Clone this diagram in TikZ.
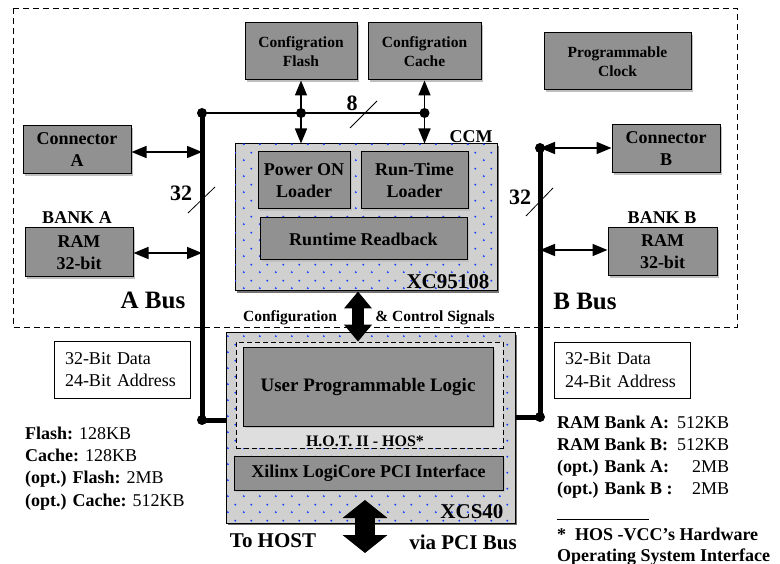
\documentclass[tikz,border=0pt]{standalone}
\usepackage{fontspec}
\setmainfont{Liberation Serif}
\usetikzlibrary{arrows.meta,shadows,patterns}

\pgfdeclarepatternformonly{bluedots}{\pgfpointorigin}{\pgfpoint{16pt}{16pt}}{\pgfpoint{16pt}{16pt}}{%
  \pgfpathcircle{\pgfpoint{4pt}{4pt}}{1.1pt}%
  \pgfpathcircle{\pgfpoint{12pt}{12pt}}{1.1pt}%
  \pgfusepath{fill}}

\definecolor{boxgray}{RGB}{145,145,145}
\definecolor{chipgray}{RGB}{208,208,208}
\definecolor{hotgray}{RGB}{222,222,222}
\definecolor{dotblue}{RGB}{20,60,255}

\newcommand{\fsbig}{\fontsize{18}{22}\selectfont\bfseries}
\newcommand{\fssmall}{\fontsize{15.5}{19}\selectfont\bfseries}
\newcommand{\fshuge}{\fontsize{25}{28}\selectfont\bfseries}
\newcommand{\fsnum}{\fontsize{22}{24}\selectfont\bfseries}
\newcommand{\fslist}{\fontsize{18}{22.3}\selectfont}

\tikzset{
  every node/.style={font=\fsbig},
  box/.style={draw, line width=1pt, fill=boxgray, align=center, inner sep=1pt,
    drop shadow={shadow xshift=2pt, shadow yshift=-2pt, fill=black!25, opacity=1}},
  chip/.style={draw, line width=1pt, fill=chipgray, inner sep=0pt,
    postaction={pattern=bluedots, pattern color=dotblue},
    drop shadow={shadow xshift=2pt, shadow yshift=-2pt, fill=black!55, opacity=1}},
  info/.style={draw, line width=0.8pt, fill=white, align=left, inner xsep=10pt,
    font=\normalfont\fslist},
  bus/.style={line width=5pt},
  link/.style={line width=1.6pt, {Triangle[length=15pt,width=12pt]}-{Triangle[length=15pt,width=12pt]}},
  tick/.style={line width=0.8pt},
}

\begin{document}
\begin{tikzpicture}[x=1pt, y=-1pt]
  \useasboundingbox (0,0) rectangle (780,564);
  \draw[line width=0.8pt, dash pattern=on 6pt off 4pt] (13,8) rectangle (737,327);

  % memories and connectors
  \node (flash) [box, minimum width=112pt, minimum height=57pt, font=\fssmall] at (301, 51.5) {Configration\\Flash};
  \node (cache) [box, minimum width=113pt, minimum height=57pt, font=\fssmall] at (424.5, 51.5) {Configration\\Cache};
  \node (clock) [box, minimum width=147pt, minimum height=57pt, font=\fssmall] at (617.5, 61.5) {Programmable\\Clock};
  \node (conA) [box, minimum width=108pt, minimum height=48pt] at (77, 150) {Connector\\A};
  \node (ramA) [box, minimum width=108pt, minimum height=49pt] at (79, 252.5) {RAM\\32-bit};
  \node (conB) [box, minimum width=108pt, minimum height=48pt] at (666, 149) {Connector\\B};
  \node (ramB) [box, minimum width=109pt, minimum height=48pt] at (662.5, 252) {RAM\\32-bit};
  \node (bankA) at (77, 218) {BANK A};
  \node (bankB) at (662, 218) {BANK B};

  % CCM
  \node (ccm) [chip, minimum width=262pt, minimum height=147pt] at (366, 217.5) {};
  \node (pwr) [box, minimum width=92pt, minimum height=57pt] at (304, 180.5) {Power ON\\Loader};
  \node (rtl) [box, minimum width=107pt, minimum height=57pt] at (414.5, 180.5) {Run-Time\\Loader};
  \node (rdb) [box, minimum width=207pt, minimum height=42pt] at (363.5, 239) {Runtime Readback};
  \node (ccmlbl) at (471, 137) {CCM};
  \node (xclbl) [font=\fontsize{21}{24}\selectfont\bfseries] at (448, 282) {XC95108};

  % XCS40
  \node (xcs) [chip, minimum width=289pt, minimum height=190pt] at (370.5, 428) {};
  \node (hot) [draw, line width=0.8pt, dash pattern=on 5pt off 3pt, fill=hotgray,
    minimum width=267pt, minimum height=106pt] at (369.5, 395) {};
  \node (upl) [box, minimum width=250pt, minimum height=78pt, font=\fontsize{19}{22}\selectfont\bfseries] at (368, 387) {User Programmable Logic};
  \node (hotlbl) [font=\fontsize{16}{18}\selectfont\bfseries] at (365, 441) {H.O.T. II - HOS*};
  \node (pci) [box, minimum width=269pt, minimum height=34pt] at (368.5, 473) {Xilinx LogiCore PCI Interface};
  \node (xslbl) [font=\fontsize{21}{24}\selectfont\bfseries] at (472, 512) {XCS40};

  % buses
  \coordinate (atop) at (202, 113);
  \coordinate (abot) at (202, 420);
  \coordinate (btop) at (540, 148);
  \coordinate (bbot) at (540, 417);
  \coordinate (ctap) at (cache.south |- atop);
  \draw[bus] (atop) -- (abot) -- (abot -| xcs.west);
  \draw[bus] (btop) -- (bbot) -- (bbot -| xcs.east);
  \draw[line width=1.6pt] (atop) -- (ctap);
  \fill (atop) circle (5pt);
  \fill (abot) circle (5pt);
  \fill (btop) circle (5pt);
  \fill (bbot) circle (5pt);
  \fill (flash.south |- atop) circle (5pt);
  \fill (ctap) circle (5pt);

  \draw[link] (flash.south) -- (flash.south |- ccm.north);
  \draw[link] (cache.south) -- (cache.south |- ccm.north);
  \draw[link] (conA.east |- 0,152) -- (atop |- 0,152);
  \draw[link] (ramA.east |- 0,253) -- (atop |- 0,253);
  \draw[link] (btop) -- (conB.west |- btop);
  \draw[link] (btop |- 0,250) -- (ramB.west |- 0,250);

  \draw[tick] (350,128) -- (377,101);
  \draw[tick] (188,213) -- (215,187);
  \draw[tick] (526,216) -- (553,188);
  \node (w8) [font=\fsnum] at (352, 103) {8};
  \node (w32a) [font=\fsnum] at (181, 193) {32};
  \node (w32b) [font=\fsnum] at (520, 197) {32};
  \node (abus) [font=\fshuge] at (153, 300) {A Bus};
  \node (bbus) [font=\fshuge] at (585, 301) {B Bus};

  % configuration and host ports
  \draw[line width=12pt, {Triangle[length=17pt,width=27pt]}-{Triangle[length=17pt,width=27pt]}]
    ([xshift=-8pt]ccm.south) -- ([xshift=-8pt]ccm.south |- hot.north);
  \node (cfg) [font=\fssmall] at (290, 318) {Configuration};
  \node (ctl) [font=\fssmall] at (435, 318) {\& Control Signals};
  \coordinate (hostin) at (365, 500);
  \coordinate (hostout) at (365, 553);
  \draw[line width=20pt, {Triangle[length=18pt,width=44pt]}-{Triangle[length=18pt,width=44pt]}]
    (hostin) -- (hostout);
  \node (tohost) [font=\fontsize{21}{24}\selectfont\bfseries] at (273, 541) {To HOST};
  \node (viapci) [font=\fontsize{21}{24}\selectfont\bfseries] at (463, 542) {via PCI Bus};

  % notes
  \node (infoA) [info, minimum width=136pt, minimum height=57pt, text width=114pt] at (122, 369.5) {32-Bit Data\\24-Bit Address};
  \node (infoB) [info, minimum width=136pt, minimum height=56pt, text width=114pt] at (622, 370) {32-Bit Data\\24-Bit Address};
  \node (sizesA) [anchor=west, align=left, inner sep=0pt, font=\normalfont\fslist] at (25, 468.5)
    {\textbf{Flash:} 128KB\\\textbf{Cache:} 128KB\\\textbf{(opt.) Flash:} 2MB\\\textbf{(opt.) Cache:} 512KB};
  \node (sizesB) [anchor=west, inner sep=0pt, font=\normalfont\fslist] at (557, 457)
    {\begin{tabular}{@{}l@{\ }r@{}}
      \textbf{RAM Bank A:} & 512KB\\
      \textbf{RAM Bank B:} & 512KB\\
      \textbf{(opt.) Bank A:} & 2MB\\
      \textbf{(opt.) Bank B :} & 2MB
    \end{tabular}};
  \coordinate (fnl) at (557, 519);
  \coordinate (fnr) at (649, 519);
  \draw[line width=0.6pt] (fnl) -- (fnr);
  \node (hosnote) [anchor=west, align=left, inner sep=0pt, font=\fontsize{18}{21}\selectfont\bfseries] at (557, 546.5)
    {*\ \ HOS -VCC's Hardware\\Operating System Interface};
\end{tikzpicture}
\end{document}
